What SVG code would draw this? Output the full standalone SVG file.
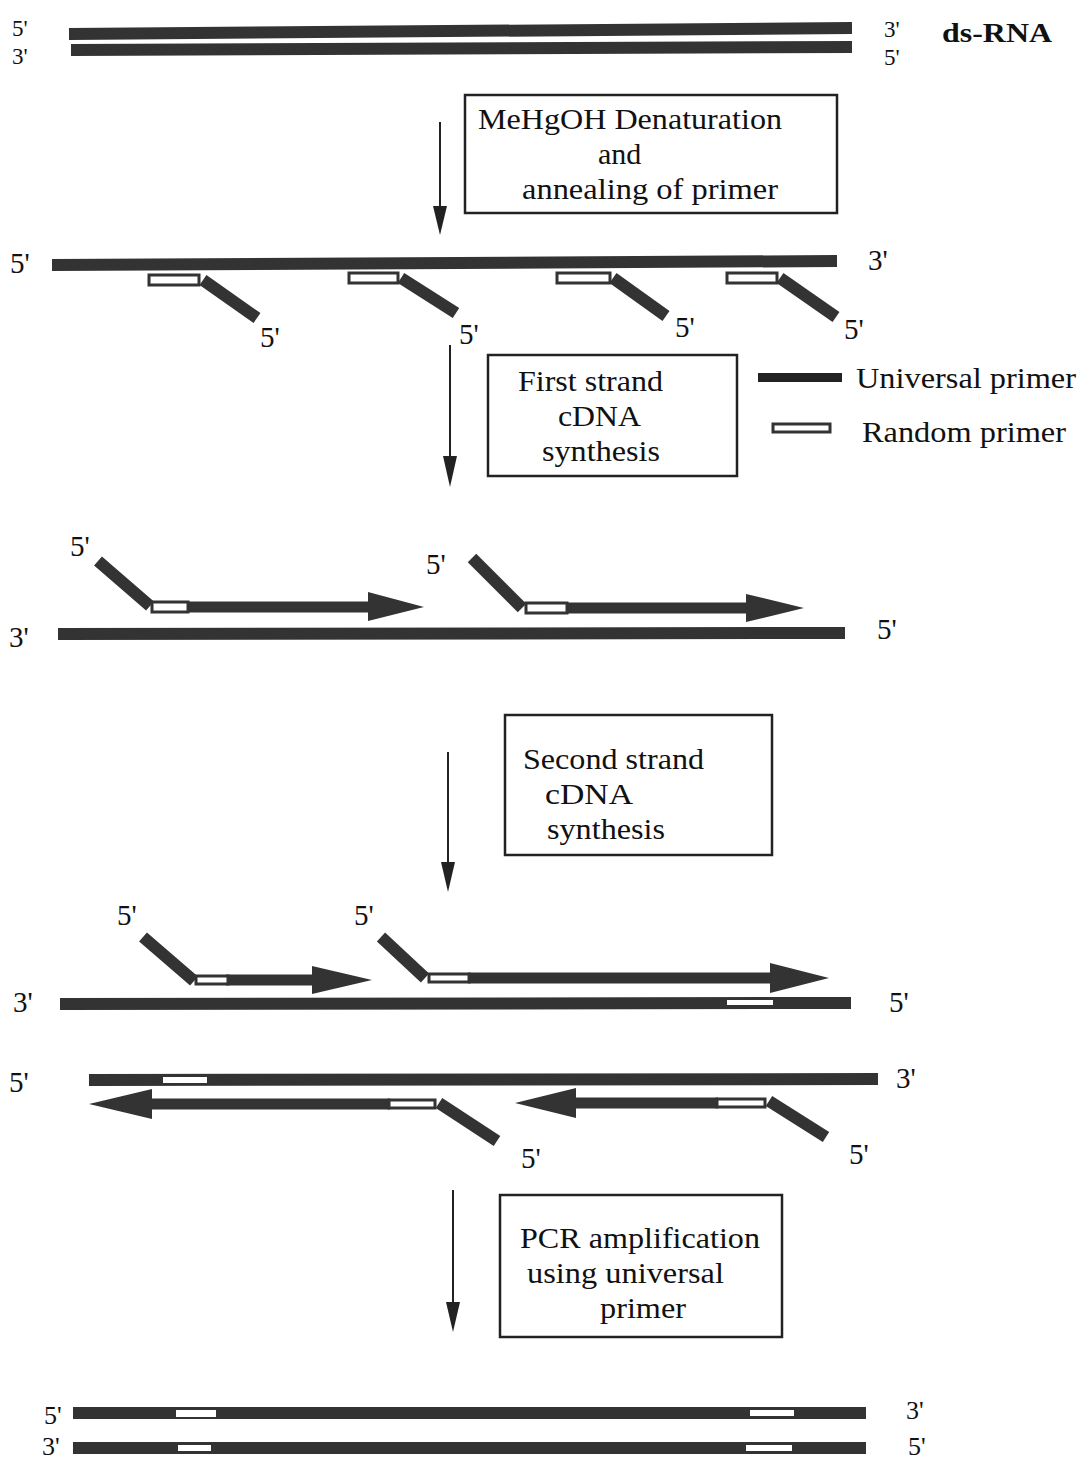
<svg xmlns="http://www.w3.org/2000/svg" width="1081" height="1463" viewBox="0 0 1081 1463">
<style>
text{font-family:"Liberation Serif","Times New Roman",serif;fill:#111;}
.lab{font-size:29px;}
.lab2{font-size:26px;}
.lab3{font-size:23px;}
.box{fill:#fff;stroke:#222;stroke-width:2.5;}
.bt{font-size:30px;}
.strand{stroke:#333;stroke-width:12;fill:none;}
.uni{stroke:#333;stroke-width:12;fill:none;}
.rnd{fill:#fff;stroke:#333;stroke-width:3;}
.rin{fill:#fff;}
.shaft{stroke:#333;stroke-width:11;fill:none;}
.head{fill:#333;}
.conn{stroke:#222;stroke-width:2;fill:none;}
.ah{fill:#222;}
</style>

<!-- ds-RNA -->
<g id="dsRNA">
<line class="strand" x1="69" y1="34" x2="852" y2="28" stroke-width="11"/>
<line class="strand" x1="71" y1="50" x2="852" y2="47" stroke-width="11"/>
<text class="lab3" x="12" y="36">5'</text>
<text class="lab3" x="12" y="64">3'</text>
<text class="lab3" x="884" y="37">3'</text>
<text class="lab3" x="884" y="65">5'</text>
<text x="942" y="42" font-size="27" font-weight="bold" textLength="110" lengthAdjust="spacingAndGlyphs">ds-RNA</text>
</g>

<!-- Step boxes -->
<g id="box1">
<rect class="box" x="465" y="95" width="372" height="118"/>
<text class="bt" x="478" y="129" textLength="304" lengthAdjust="spacingAndGlyphs">MeHgOH Denaturation</text>
<text class="bt" x="598" y="164">and</text>
<text class="bt" x="522" y="199" textLength="256" lengthAdjust="spacingAndGlyphs">annealing of primer</text>
</g>
<g id="box2">
<rect class="box" x="488" y="355" width="249" height="121"/>
<text class="bt" x="518" y="391" textLength="145" lengthAdjust="spacingAndGlyphs">First strand</text>
<text class="bt" x="558" y="426" textLength="83" lengthAdjust="spacingAndGlyphs">cDNA</text>
<text class="bt" x="542" y="461" textLength="118" lengthAdjust="spacingAndGlyphs">synthesis</text>
</g>
<g id="box3">
<rect class="box" x="505" y="715" width="267" height="140"/>
<text class="bt" x="523" y="769" textLength="181" lengthAdjust="spacingAndGlyphs">Second strand</text>
<text class="bt" x="545" y="804" textLength="88" lengthAdjust="spacingAndGlyphs">cDNA</text>
<text class="bt" x="547" y="839" textLength="118" lengthAdjust="spacingAndGlyphs">synthesis</text>
</g>
<g id="box4">
<rect class="box" x="500" y="1195" width="282" height="142"/>
<text class="bt" x="520" y="1248" textLength="240" lengthAdjust="spacingAndGlyphs">PCR amplification</text>
<text class="bt" x="527" y="1283" textLength="197" lengthAdjust="spacingAndGlyphs">using universal</text>
<text class="bt" x="600" y="1318" textLength="86" lengthAdjust="spacingAndGlyphs">primer</text>
</g>

<!-- Legend -->
<g id="legend">
<rect x="758" y="373" width="84" height="9" fill="#222"/>
<text x="856" y="388" font-size="30" textLength="220" lengthAdjust="spacingAndGlyphs">Universal primer</text>
<rect class="rnd" x="773" y="424" width="57" height="8" stroke-width="2.5"/>
<text x="862" y="442" font-size="30" textLength="204" lengthAdjust="spacingAndGlyphs">Random primer</text>
</g>

<!-- Annealed primers on single strand -->
<g id="annealed">
<line class="strand" x1="52" y1="265" x2="837" y2="261"/>
<text class="lab" x="10" y="273">5'</text>
<text class="lab" x="868" y="270">3'</text>
<g id="primerA1">
<rect class="rnd" x="149" y="275" width="50" height="10"/>
<line class="uni" x1="203" y1="280" x2="257" y2="318"/>
<text class="lab" x="260" y="347">5'</text>
</g>
<g id="primerA2">
<rect class="rnd" x="349" y="273" width="49" height="10"/>
<line class="uni" x1="401" y1="278" x2="456" y2="313"/>
<text class="lab" x="459" y="344">5'</text>
</g>
<g id="primerA3">
<rect class="rnd" x="557" y="273" width="53" height="10"/>
<line class="uni" x1="613" y1="278" x2="666" y2="316"/>
<text class="lab" x="675" y="337">5'</text>
</g>
<g id="primerA4">
<rect class="rnd" x="727" y="273" width="50" height="10"/>
<line class="uni" x1="780" y1="278" x2="836" y2="317"/>
<text class="lab" x="844" y="339">5'</text>
</g>
</g>

<!-- First strand synthesis -->
<g id="firstStrand">
<line class="strand" x1="58" y1="634" x2="845" y2="633"/>
<text class="lab" x="9" y="647">3'</text>
<text class="lab" x="877" y="639">5'</text>
<g id="fs1">
<line class="uni" x1="98" y1="561" x2="150" y2="606" stroke-width="13"/>
<line class="shaft" x1="186" y1="607" x2="370" y2="607"/>
<polygon class="head" points="368,592 424,607 368,621"/>
<rect class="rnd" x="152" y="602" width="36" height="10" stroke-width="2.5"/>
<text class="lab" x="70" y="556">5'</text>
</g>
<g id="fs2">
<line class="uni" x1="472" y1="558" x2="522" y2="608" stroke-width="13"/>
<line class="shaft" x1="565" y1="608" x2="750" y2="608"/>
<polygon class="head" points="746,594 804,608 746,622"/>
<rect class="rnd" x="526" y="603" width="41" height="10" stroke-width="2.5"/>
<text class="lab" x="426" y="574">5'</text>
</g>
</g>

<!-- Second strand synthesis -->
<g id="secondStrand">
<line class="strand" x1="60" y1="1004" x2="851" y2="1003"/>
<rect class="rin" x="727" y="1000" width="46" height="5"/>
<text class="lab" x="13" y="1012">3'</text>
<text class="lab" x="889" y="1012">5'</text>
<g id="ss1">
<line class="uni" x1="143" y1="937" x2="194" y2="981" stroke-width="13"/>
<line class="shaft" x1="226" y1="980" x2="315" y2="980"/>
<polygon class="head" points="312,966 372,980 312,994"/>
<rect class="rnd" x="196" y="976" width="32" height="8" stroke-width="2.5"/>
<text class="lab" x="117" y="925">5'</text>
</g>
<g id="ss2">
<line class="uni" x1="381" y1="937" x2="425" y2="978" stroke-width="13"/>
<line class="shaft" x1="468" y1="978" x2="775" y2="978"/>
<polygon class="head" points="770,963 829,978 770,993"/>
<rect class="rnd" x="429" y="974" width="40" height="8" stroke-width="2.5"/>
<text class="lab" x="354" y="925">5'</text>
</g>
<line class="strand" x1="89" y1="1080" x2="878" y2="1079"/>
<rect class="rin" x="163" y="1077" width="44" height="6"/>
<text class="lab" x="9" y="1092">5'</text>
<text class="lab" x="896" y="1088">3'</text>
<g id="ss3">
<line class="shaft" x1="148" y1="1104" x2="390" y2="1104"/>
<polygon class="head" points="152,1089 89,1104 152,1119"/>
<rect class="rnd" x="389" y="1100" width="46" height="8" stroke-width="2.5"/>
<line class="uni" x1="439" y1="1103" x2="497" y2="1141"/>
<text class="lab" x="521" y="1168">5'</text>
</g>
<g id="ss4">
<line class="shaft" x1="572" y1="1103" x2="718" y2="1103"/>
<polygon class="head" points="576,1088 515,1103 576,1118"/>
<rect class="rnd" x="717" y="1099" width="48" height="8" stroke-width="2.5"/>
<line class="uni" x1="769" y1="1101" x2="826" y2="1137"/>
<text class="lab" x="849" y="1164">5'</text>
</g>
</g>

<!-- PCR products -->
<g id="pcrProduct">
<line class="strand" x1="73" y1="1413" x2="866" y2="1413" stroke-width="13"/>
<rect class="rin" x="176" y="1410" width="40" height="7"/>
<rect class="rin" x="750" y="1410" width="44" height="6"/>
<line class="strand" x1="73" y1="1448" x2="866" y2="1448" stroke-width="12"/>
<rect class="rin" x="178" y="1445" width="33" height="6"/>
<rect class="rin" x="746" y="1445" width="46" height="6"/>
<text class="lab2" x="44" y="1424">5'</text>
<text class="lab2" x="42" y="1455">3'</text>
<text class="lab2" x="906" y="1419">3'</text>
<text class="lab2" x="908" y="1455">5'</text>
</g>

<!-- Process arrows -->
<g id="connectors">
<line class="conn" x1="440" y1="122" x2="440" y2="210"/>
<polygon class="ah" points="433,206 447,206 440,235"/>
<line class="conn" x1="450" y1="345" x2="450" y2="460"/>
<polygon class="ah" points="443,456 457,456 450,487"/>
<line class="conn" x1="448" y1="752" x2="448" y2="866"/>
<polygon class="ah" points="441,862 455,862 448,892"/>
<line class="conn" x1="453" y1="1190" x2="453" y2="1306"/>
<polygon class="ah" points="446,1302 460,1302 453,1332"/>
</g>
</svg>
